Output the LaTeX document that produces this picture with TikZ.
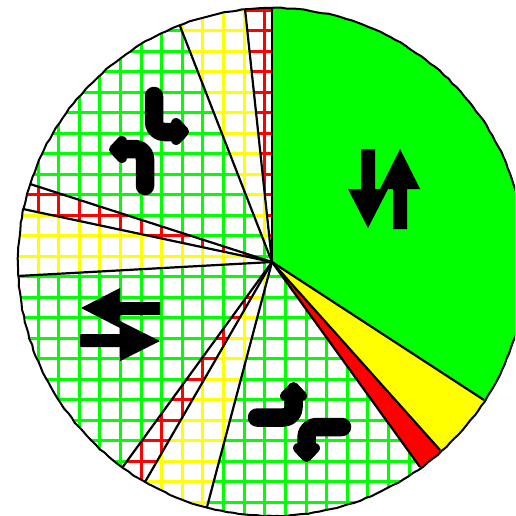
\documentclass[tikz,border=0pt]{standalone}
\usetikzlibrary{calc,decorations.pathmorphing}
\definecolor{pureyellow}{RGB}{255,255,0}
\definecolor{puregreen}{RGB}{0,255,0}
\definecolor{purered}{RGB}{255,0,0}
\tikzset{
  spoke/.style={draw=black,line width=2.2pt},
  rim/.style={draw=black,line width=2pt,decorate,decoration={random steps,segment length=6pt,amplitude=0.5pt}},
  gridln/.style={line width=3pt},
  bentstroke/.style={draw=black,line width=18.5pt,line cap=round,line join=round,rounded corners=10pt},
  bendhead/.style={draw=black,fill=black,line width=10pt,line join=round},
  straightarrow/.style={fill=black}
}
\newcommand{\gridwedge}[3]{%
  \begin{scope}
    \clip (O) circle [radius=254pt];
    \clip (O) -- ($(O)!2!(#2)$) -- ($(O)!2!(#3)$) -- cycle;
    \foreach \k in {-1,...,23} {
      \draw[gridln,#1] ({38+20.62*\k},-10) -- ({38+20.62*\k},530);
    }
    \foreach \k in {-2,...,24} {
      \draw[gridln,#1] (-10,{31+20.48*\k}) -- (530,{31+20.48*\k});
    }
  \end{scope}}
\begin{document}
\begin{tikzpicture}[x=1pt,y=-1pt]
  \pgfmathsetseed{7}
  \path[use as bounding box,fill=white] (0,0) rectangle (515,516);
  \clip (0,0) rectangle (515,516);
  \coordinate (O) at (272,262);
  \coordinate (A) at (272,8);
  \coordinate (B) at (484,400);
  \coordinate (C) at (440,450);
  \coordinate (D) at (420,467);
  \coordinate (E) at (207,507);
  \coordinate (F) at (145,482);
  \coordinate (G) at (122,468);
  \coordinate (H) at (18,276);
  \coordinate (I) at (23,209);
  \coordinate (J) at (30,184);
  \coordinate (K) at (180,26);
  \coordinate (L) at (245,9);
  % solid sectors
  \begin{scope}
    \clip (O) circle [radius=254pt];
    \fill[puregreen] (O) -- (272,-100) -- (700,-100) -- ($(O)!2!(B)$) -- cycle;
    \fill[pureyellow] (O) -- ($(O)!2!(B)$) -- ($(O)!2!(C)$) -- cycle;
    \fill[purered] (O) -- ($(O)!2!(C)$) -- ($(O)!2!(D)$) -- cycle;
  \end{scope}
  % hatched sectors
  \gridwedge{puregreen}{D}{E}
  \gridwedge{pureyellow}{E}{F}
  \gridwedge{purered}{F}{G}
  \gridwedge{puregreen}{G}{H}
  \gridwedge{pureyellow}{H}{I}
  \gridwedge{purered}{I}{J}
  \gridwedge{puregreen}{J}{K}
  \gridwedge{pureyellow}{K}{L}
  \gridwedge{purered}{L}{A}
  % spokes and outline
  \foreach \p in {A,B,C,D,E,F,G,H,I,J,K,L} { \draw[spoke] (O) -- (\p); }
  \draw[rim] (O) circle [radius=254pt];
  % straight arrows, top right
  \fill[straightarrow] (361,149) -- (375,149) -- (375,189) -- (388,189) -- (368,228) -- (348,189) -- (361,189) -- cycle;
  \fill[straightarrow] (393,229) -- (407,229) -- (407,189) -- (420,189) -- (400,149) -- (380,189) -- (393,189) -- cycle;
  % straight arrows, left
  \fill[straightarrow] (160,302) -- (160,315) -- (120,315) -- (120,328) -- (81,308) -- (120,288) -- (120,302) -- cycle;
  \fill[straightarrow] (80,334) -- (80,347) -- (120,347) -- (120,361) -- (160,341) -- (120,321) -- (120,334) -- cycle;
  % bent arrows, upper left
  \draw[bentstroke] (154,96) -- (154,132) -- (178,132);
  \draw[bendhead] (176,123) -- (184,131.5) -- (176,140) -- cycle;
  \draw[bentstroke] (145,186) -- (145,149) -- (122,149);
  \draw[bendhead] (122,141) -- (114,149.5) -- (122,158) -- cycle;
  % bent arrows, bottom
  \draw[bentstroke] (257,417.5) -- (293.5,417.5) -- (293.5,395);
  \draw[bendhead] (285,396) -- (293.5,387) -- (302,396) -- cycle;
  \draw[bentstroke] (342,427) -- (306.5,427) -- (306.5,450);
  \draw[bendhead] (298,448) -- (306.5,457) -- (315,448) -- cycle;
\end{tikzpicture}
\end{document}
